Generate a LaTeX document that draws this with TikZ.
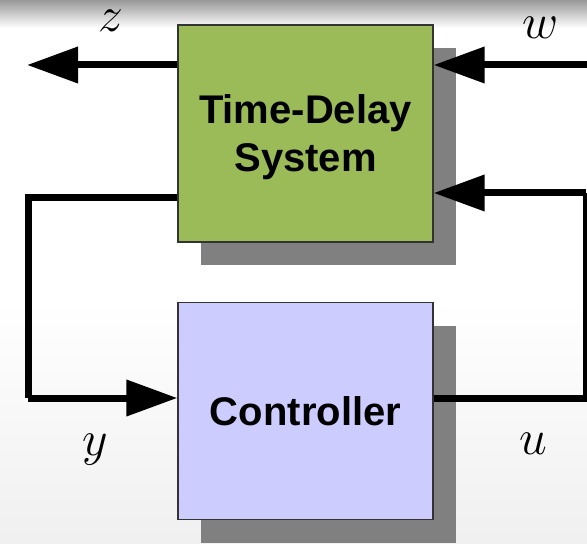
\documentclass[tikz,border=0pt]{standalone}
\usepackage{fontspec}
\setmainfont{Liberation Sans}
\usepackage{tikz}
\usetikzlibrary{
    arrows.meta,
    calc,
    shadows
}
\definecolor{ink}    {HTML}{000000}
\definecolor{edge}   {HTML}{333333}
\definecolor{plant}  {HTML}{9BBB59}
\definecolor{ctrlbg} {HTML}{CCCCFF}
\definecolor{shade}  {HTML}{808080}

\begin{document}
\begin{tikzpicture}[
    x=0.5pt, y=-0.5pt,
    line join=miter,
    %% --- semantic styles ---
    blockbox/.style  = {rectangle, draw=edge, line width=0.6pt,
                        minimum width=127.5pt, minimum height=108.5pt,
                        font=\fontsize{20}{24}\selectfont\bfseries,
                        align=center, inner sep=0pt, text depth=0pt,
                        drop shadow={shadow xshift=11.5pt, shadow yshift=-11.5pt,
                                     fill=shade, opacity=1}},
    signal/.style    = {draw=ink, line width=3.5pt,
                        -{Triangle[length=25.5pt, width=17.5pt]}},
    wire/.style      = {draw=ink, line width=3.5pt},
    varlabel/.style  = {font=\fontsize{27}{32}\selectfont, inner sep=0pt}
]
\useasboundingbox (0,0) rectangle (587,544);

%% =====================================================
%% Background (slide shading)
%% =====================================================
\fill[white] (0,0) rectangle (587,544);
\shade[top color=black!40, bottom color=white] (0,0) rectangle (587,28);
\shade[top color=white, bottom color=black!6] (0,300) rectangle (587,544);
\node[varlabel, anchor=east] (paren) at (5,338) {$)$};

%% =====================================================
%% Blocks
%% =====================================================
\node[blockbox, fill=plant] (sys) at (305.5,133.5) {Time-Delay\\System};
\node[blockbox, fill=ctrlbg] (ctrl) at (305.5,411) {Controller};

%% =====================================================
%% Signals
%% =====================================================
\coordinate (zend)  at (27,65);
\coordinate (wbeg)  at (595,65);
\coordinate (ytop)  at (28,198);
\coordinate (ybot)  at (28,398);
\coordinate (ubot)  at (586,398);
\coordinate (utop)  at (586,193);

% performance output and disturbance
\draw[signal] (sys.west |- zend) -- (zend);
\draw[signal] (wbeg) -- (wbeg -| sys.east);

% measured output into the controller
\draw[wire] (sys.west |- ytop) -- (ytop) -- (ybot);
\draw[signal] (ybot) -- (ybot -| ctrl.west);

% control input back to the plant
\draw[wire] (ctrl.east |- ubot) -- (ubot) -- (utop);
\draw[signal] (utop) -- (utop -| sys.east);

%% =====================================================
%% Labels
%% =====================================================
\node[varlabel] (zlab) at (111,21) {$z$};
\node[varlabel] (wlab) at (541,28) {$w$};
\node[varlabel] (ylab) at (95,450) {$y$};
\node[varlabel] (ulab) at (533,444) {$u$};

\end{tikzpicture}
\end{document}
